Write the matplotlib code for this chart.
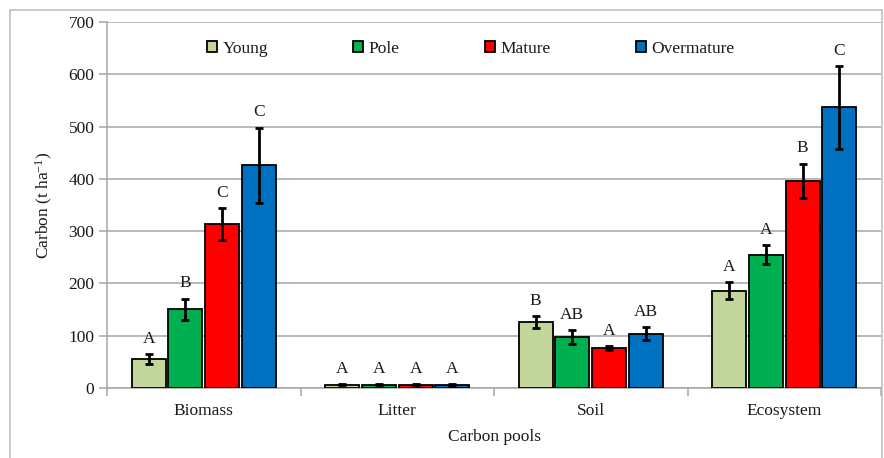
import matplotlib
matplotlib.use('Agg')
import matplotlib.pyplot as plt
import numpy as np
from matplotlib.patches import Rectangle

# Data
pools = ['Biomass', 'Litter', 'Soil', 'Ecosystem']
stages = ['Young', 'Pole', 'Mature', 'Overmature']
colors = ['#c3d69b', '#00b050', '#ff0000', '#0070c0']

young = [55, 6, 126, 186]
pole = [151, 6, 97, 255]
mature = [314, 6, 76, 396]
overmature = [426, 6, 104, 537]

young_err = [10, 1, 11, 16]
pole_err = [20, 1, 13, 18]
mature_err = [30, 1, 4, 33]
overmature_err = [72, 2, 12, 79]

young_letters = ['A', 'A', 'B', 'A']
pole_letters = ['B', 'A', 'AB', 'A']
mature_letters = ['C', 'A', 'A', 'B']
overmature_letters = ['C', 'A', 'AB', 'C']

values = [young, pole, mature, overmature]
errors = [young_err, pole_err, mature_err, overmature_err]
letters = [young_letters, pole_letters, mature_letters, overmature_letters]

plt.rcParams['font.family'] = ['Liberation Serif', 'DejaVu Serif']
plt.rcParams['mathtext.default'] = 'regular'

fig = plt.figure(figsize=(8.84, 4.58), dpi=100)
ax = fig.add_axes([107 / 884, 1 - 388 / 458, 774 / 884, 366 / 458])

# light frame around the whole chart
fig.patches.append(Rectangle((10 / 884, -0.05), 872 / 884, 1.05 - 10 / 458,
                             transform=fig.transFigure, fill=False,
                             edgecolor='#c0c0c0', lw=1.2, zorder=0))

x = np.arange(len(pools))
pitch = 0.19
width = 0.176
grid_col = '#a6a6a6'
txt_col = '#1a1a1a'

for i, (vals, errs, labs) in enumerate(zip(values, errors, letters)):
    pos = x + (i - 1.5) * pitch
    ax.bar(pos, vals, width, color=colors[i], edgecolor='black', lw=1.3,
           label=stages[i], zorder=3)
    ax.errorbar(pos, vals, yerr=errs, fmt='none', ecolor='black', elinewidth=2,
                capsize=3, capthick=2, zorder=4)
    for p, v, e, t in zip(pos, vals, errs, labs):
        ax.annotate(t, (p, v + e), xytext=(0, 11), textcoords='offset points',
                    ha='center', va='center', fontsize=12.5, color=txt_col)

ax.set_xlim(-0.5, 3.5)
ax.set_ylim(0, 700)
ax.set_yticks(np.arange(0, 701, 100))
ax.yaxis.grid(True, color=grid_col, lw=1.1, zorder=0)
ax.set_axisbelow(True)

# category boundaries as major ticks, names as minor
ax.set_xticks(np.arange(-0.5, 3.6, 1))
ax.set_xticklabels([])
ax.set_xticks(x, minor=True)
ax.set_xticklabels(pools, minor=True)
ax.tick_params(axis='x', which='major', length=6, color=grid_col, width=1.1)
ax.tick_params(axis='x', which='minor', length=0, pad=11, labelsize=12.5, labelcolor=txt_col)
ax.tick_params(axis='y', length=6, color=grid_col, width=1.1, labelsize=12.5,
               labelcolor=txt_col, pad=3)

for s in ['top', 'right']:
    ax.spines[s].set_visible(False)
for s in ['left', 'bottom']:
    ax.spines[s].set_color(grid_col)
    ax.spines[s].set_linewidth(1.1)

ax.set_ylabel('Carbon (t ha$^{-1}$)', fontsize=12.5, color=txt_col, labelpad=10)
ax.set_xlabel('Carbon pools', fontsize=12.5, color=txt_col, labelpad=7)

fig.legend(loc='center left', bbox_to_anchor=(198 / 884, 1 - 49 / 458),
           ncol=4, frameon=False, fontsize=12.5, handlelength=0.6,
           handleheight=0.6, handletextpad=0.3, columnspacing=4.9,
           borderpad=0, labelcolor=txt_col)

fig.savefig('out.png', dpi=100)
